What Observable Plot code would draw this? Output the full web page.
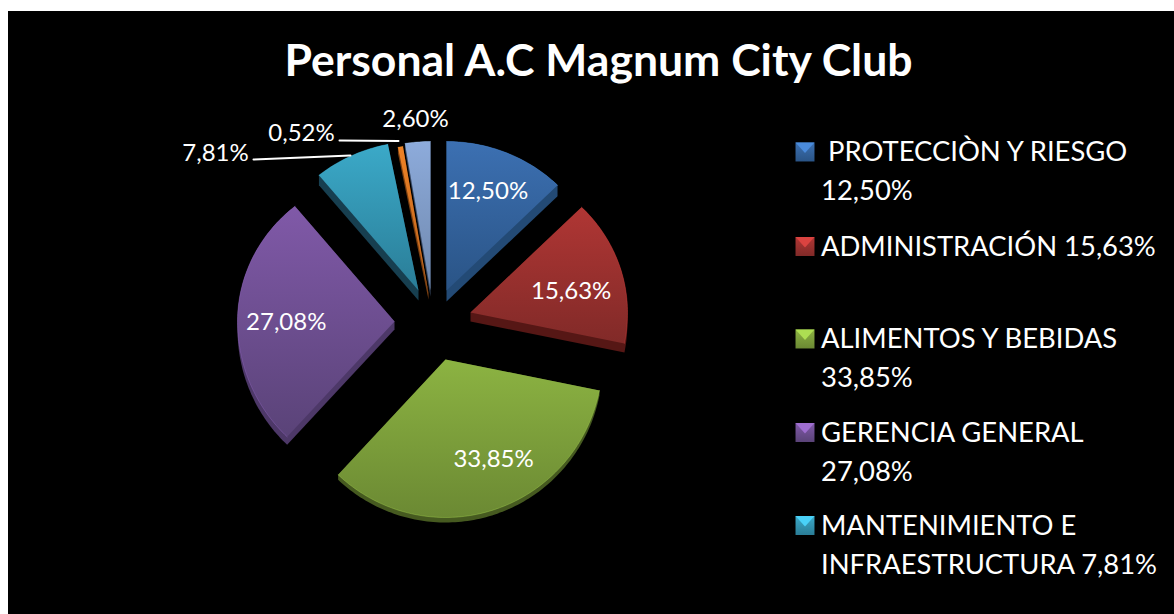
<!DOCTYPE html>
<html>
<head>
<meta charset="utf-8">
<script src="https://cdn.jsdelivr.net/npm/d3@7"></script>
<script src="https://cdn.jsdelivr.net/npm/@observablehq/plot@0.6"></script>
<style>
html,body{margin:0;padding:0;background:#fff;overflow:hidden}
#chart{position:absolute;left:8px;top:11px}
svg{display:block}
</style>
</head>
<body>
<div id="chart"></div>
<script>
const titleText = "Personal A.C Magnum City Club";
const categories = ["PROTECCIÒN Y RIESGO","ADMINISTRACIÓN","ALIMENTOS Y BEBIDAS","GERENCIA GENERAL","MANTENIMIENTO E INFRAESTRUCTURA","Otros 1","Otros 2"];
const values = [12.50,15.63,33.85,27.08,7.81,0.52,2.60];
const valueLabels = ["12,50%","15,63%","33,85%","27,08%","7,81%","0,52%","2,60%"];
const legendLabels = ["\u00a0PROTECCIÒN Y RIESGO\n12,50%","ADMINISTRACIÓN 15,63%","ALIMENTOS Y BEBIDAS\n33,85%","GERENCIA GENERAL\n27,08%","MANTENIMIENTO E\nINFRAESTRUCTURA 7,81%"];

// Styling
const topColors = ["#3c70b2","#b03634","#8cb342","#8059a8","#3ba9c8","#ee8226","#8dabdb"];
const botColors = ["#2a5486","#812a28","#6b8933","#5a4378","#2a7d97","#b8611c","#6f88ad"];
const wallColors = ["#234a75","#561715","#465a20","#4d3868","#173f50","#7a3f10","#3a4c68"];

// Layout (in the SVG's own pixels)
const W = 1166, H = 603;
const cx = 424, cy = 309, rx = 157, ryUp = 149, ryDown = 158;
const explode = [[14,-30],[38,-8],[13,39],[-38,1],[-14,-30],[-4,-27],[-2,-30]];
const depth = [11,9,5,8,10,6,6];
const labelNudge = [[0,-4],[-3,9],[15,-4],[0,4]];

const total = d3.sum(values);
const angles = d3.cumsum(values).map(c => c / total * 2 * Math.PI);
const slices = values.map((v, i) => {
  const a0 = i ? angles[i - 1] : 0, a1 = angles[i], mid = (a0 + a1) / 2;
  const tx = cx + explode[i][0], ty = cy + explode[i][1];
  const at = (a, f = 1) => [tx + f * rx * Math.sin(a), ty - f * (Math.cos(a) > 0 ? ryUp : ryDown) * Math.cos(a)];
  const n = Math.max(3, Math.ceil((a1 - a0) / 0.02));
  const arc = d3.range(n + 1).map(k => at(a0 + (a1 - a0) * k / n));
  const poly = [[tx, ty], ...arc, [tx, ty]];
  const hull = d3.polygonHull([...poly, ...poly.map(([x, y]) => [x, y + depth[i]])]);
  return {i, poly, arc, hull: [...hull, hull[0]], label: at(mid, 0.69)};
});

const insideLabels = [0,1,2,3].map(i => ({text: valueLabels[i], x: slices[i].label[0] + labelNudge[i][0], y: slices[i].label[1] + labelNudge[i][1]}));
const outsideLabels = [
  {text: valueLabels[4], x: 207, y: 142},
  {text: valueLabels[5], x: 293, y: 122},
  {text: valueLabels[6], x: 407, y: 108}
];
const leaders = [
  [[245, 148], [342, 144]],
  [[331, 129], [390, 129.5]]
];
const legendY = [140.5, 235, 327.5, 421, 514];
const legend = legendLabels.map((text, i) => ({text, i, y: legendY[i], x: 812.5, sx: 796.5}));

const bevel = {draw(ctx, size) { const s = Math.sqrt(size) / 2; ctx.moveTo(-s, -s); ctx.lineTo(s, -s); ctx.lineTo(0, 1); ctx.closePath(); }};
const lighter = c => d3.color(c).brighter(0.6).formatHex();

const defs = () => {
  const el = d3.create("svg:defs");
  values.forEach((_, i) => {
    const g = el.append("linearGradient").attr("id", "g" + i).attr("x1", 0).attr("x2", 0).attr("y1", 0).attr("y2", 1);
    g.append("stop").attr("offset", "0%").attr("stop-color", topColors[i]);
    g.append("stop").attr("offset", "100%").attr("stop-color", botColors[i]);
  });
  return el.node();
};

const font = "Lato, 'Open Sans', sans-serif";
const chart = Plot.plot({
  width: W, height: H,
  margin: 0,
  x: {domain: [0, W], range: [0, W], axis: null},
  y: {domain: [0, H], range: [0, H], axis: null},
  style: {background: "#000", color: "#fff", fontFamily: font},
  marks: [
    defs,
    ...slices.map(s => Plot.line(s.hull, {x: d => d[0], y: d => d[1], fill: wallColors[s.i], stroke: "none"})),
    ...slices.map(s => Plot.line(s.poly, {x: d => d[0], y: d => d[1], fill: `url(#g${s.i})`, stroke: "none"})),
    ...slices.map(s => Plot.line(s.arc, {x: d => d[0], y: d => d[1], stroke: lighter(topColors[s.i]), strokeOpacity: 0.35, strokeWidth: 1})),
    ...leaders.map(l => Plot.line(l, {x: d => d[0], y: d => d[1], stroke: "#fff", strokeWidth: 2})),
    Plot.text([titleText], {x: () => 590, y: () => 50, text: d => d, fill: "#fff", fontSize: 44.5, fontWeight: 700, fontFamily: font}),
    Plot.text(insideLabels, {x: "x", y: "y", text: "text", fill: "#fff", fontSize: 24, fontFamily: font}),
    Plot.text(outsideLabels, {x: "x", y: "y", text: "text", fill: "#fff", fontSize: 24, fontFamily: font}),
    Plot.dot(legend, {x: "sx", y: "y", symbol: "square", r: 10.7, fill: d => `url(#g${d.i})`, stroke: "none"}),
    Plot.dot(legend, {x: "sx", y: "y", symbol: bevel, r: 10.7, fill: d => lighter(topColors[d.i]), stroke: "none"}),
    Plot.text(legend, {x: "x", y: "y", dy: -19, text: "text", fill: "#fff", fontSize: 27.4, fontFamily: font, textAnchor: "start", lineAnchor: "top", lineHeight: 1.44})
  ]
});
document.getElementById("chart").append(chart);
</script>
</body>
</html>
